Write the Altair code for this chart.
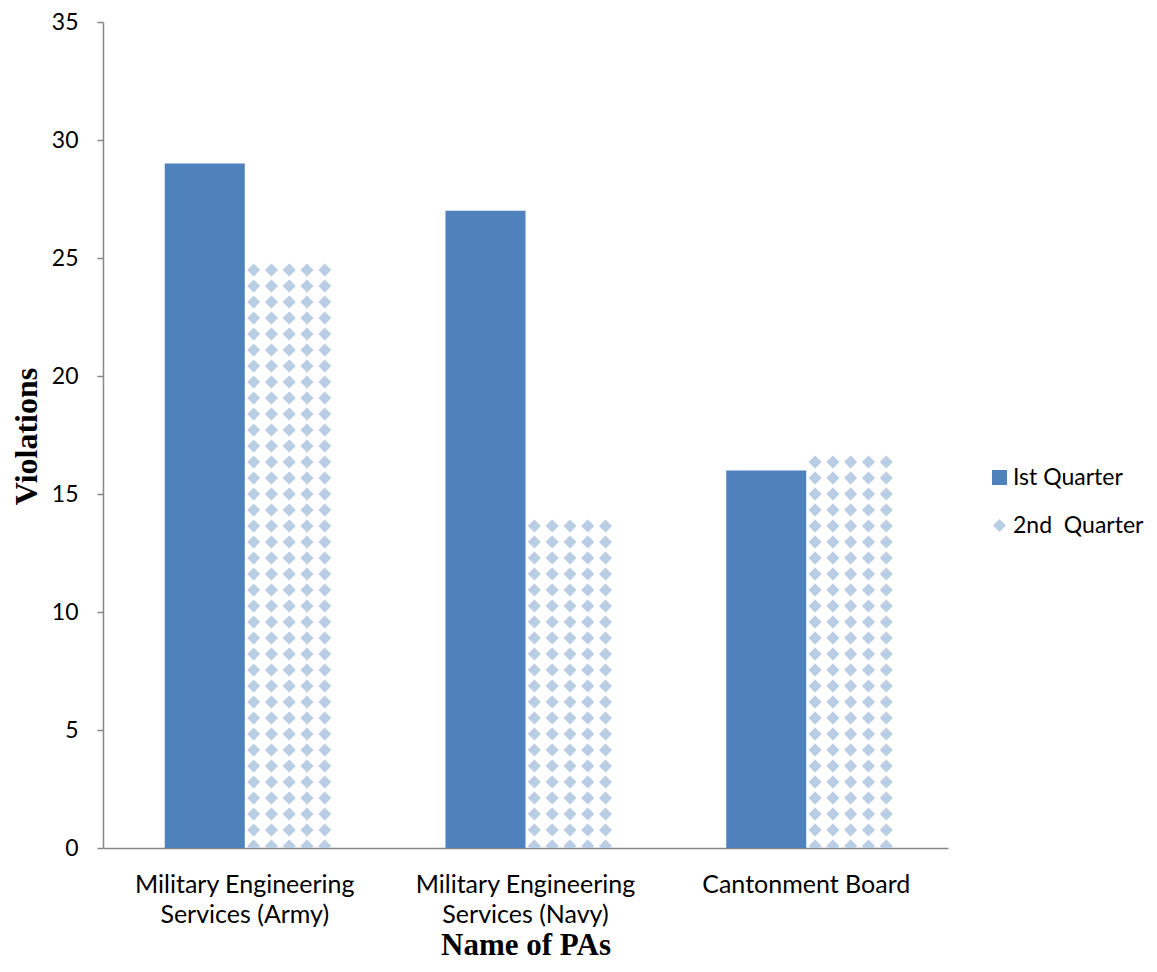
import altair as alt
import pandas as pd

categories = ["Military Engineering Services (Army)",
              "Military Engineering Services (Navy)",
              "Cantonment Board"]
series_names = ["Ist Quarter", "2nd\u00a0 Quarter"]
q1_values = [29, 27, 16]
q2_values = [25, 14, 17]

rows = []
for c, v in zip(categories, q1_values):
    rows.append({"cat": c, "series": series_names[0], "value": v})
for c, v in zip(categories, q2_values):
    rows.append({"cat": c, "series": series_names[1], "value": v})
df = pd.DataFrame(rows)

BLUE = "#4f81bd"
LIGHT = "#b9cde5"
AXIS = "#868686"
STEP = 0.6779  # pattern row spacing in data units
slots = ["c0", "c1", "c2", "c3", "c4", "d0", "d1", "d2", "d3", "d4"]

x_enc = alt.X("cat:N", sort=categories,
              scale=alt.Scale(paddingInner=0.43, paddingOuter=0.22),
              axis=alt.Axis(
                  title="Name of PAs",
                  labelAngle=0, labelLimit=0,
                  labelFont="Lato", labelFontSize=25, labelColor="#000000",
                  labelLineHeight=30, labelPadding=44, labelBaseline="alphabetic",
                  labelExpr="indexof(datum.label, 'Services') > 0 ? [substring(datum.label, 0, 20), substring(datum.label, 21)] : datum.label",
                  ticks=False, domainColor=AXIS, domainWidth=1.5,
                  titleFont="Liberation Serif", titleFontSize=31, titleFontWeight="bold",
                  titleColor="#000000", titleY=106, titleBaseline="alphabetic"))

y_scale = alt.Scale(domain=[0, 35], nice=False)

bars = alt.Chart(df).transform_filter(
    alt.datum.series == series_names[0]
).mark_bar(color=BLUE).encode(
    x=x_enc,
    xOffset=alt.XOffset("series:N", scale=alt.Scale(domain=series_names, paddingInner=0, paddingOuter=0)),
    y=alt.Y("value:Q", scale=y_scale,
            axis=alt.Axis(title="Violations", values=[0, 5, 10, 15, 20, 25, 30, 35],
                          grid=False, labelFont="Lato", labelFontSize=23,
                          labelColor="#000000", labelPadding=19, tickSize=6, tickWidth=1.5,
                          tickColor=AXIS, domainColor=AXIS, domainWidth=1.5,
                          titleFont="Liberation Serif", titleFontSize=32,
                          titleFontWeight="bold", titleColor="#000000",
                          titleX=-77, titleY=414, titleBaseline="middle", titleAngle=270)),
)

legend = alt.Legend(title=None, orient="none", legendX=885, legendY=444,
                    labelFont="Lato", labelFontSize=23, labelColor="#000000",
                    labelLimit=300, rowPadding=24, labelOffset=2)

pattern = alt.Chart(df).transform_filter(
    alt.datum.series == series_names[1]
).transform_calculate(
    k=f"sequence(0, ceil(datum.value / {STEP}) + 1)",
    cols="['d0','d1','d2','d3','d4']",
).transform_flatten(["k"]).transform_flatten(["cols"]).transform_calculate(
    yy=f"0.085 + datum.k * {STEP}"
).transform_filter("datum.yy < datum.value - 0.25").mark_point(
    shape="diamond", filled=True, opacity=1, clip=True
).encode(
    x=alt.X("cat:N", sort=categories),
    xOffset=alt.XOffset("cols:N", scale=alt.Scale(domain=slots, paddingInner=0, paddingOuter=0)),
    y=alt.Y("yy:Q", scale=y_scale),
    color=alt.Color("series:N",
                    scale=alt.Scale(domain=series_names, range=[BLUE, LIGHT]),
                    legend=legend),
    shape=alt.Shape("series:N",
                    scale=alt.Scale(domain=series_names, range=["square", "diamond"]),
                    legend=legend),
    size=alt.Size("series:N",
                  scale=alt.Scale(domain=series_names, range=[225, 170]),
                  legend=legend),
)

chart = alt.layer(bars, pattern).resolve_scale(xOffset="independent").properties(
    width=845, height=826, background="white",
    autosize=alt.AutoSizeParams(type="none"),
    padding={"left": 95, "top": 14, "right": 200, "bottom": 114},
).configure_view(stroke=None)

chart.save("out.html", embed_options={"renderer": "svg", "actions": False})
